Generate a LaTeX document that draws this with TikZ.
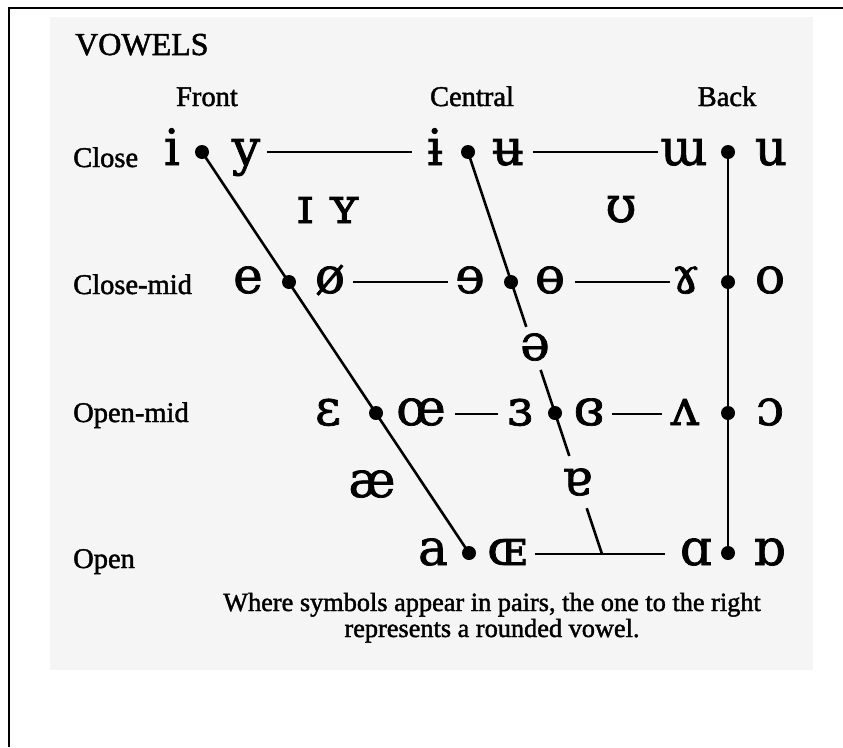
\documentclass[tikz,border=0pt]{standalone}
\usepackage{fontspec}
\setmainfont[FakeBold=1.6]{Liberation Serif}
\newfontfamily\ipafont[FakeBold=1.4]{DejaVu Serif}
\usetikzlibrary{calc}

\tikzset{
  lbl/.style={font=\fontsize{28.5}{28.5}\selectfont, anchor=base west, inner sep=0pt},
  head/.style={font=\fontsize{28.5}{28.5}\selectfont, anchor=base, inner sep=0pt},
  ipa/.style={font=\ipafont\fontsize{50}{50}\selectfont, anchor=base, inner sep=0pt},
  note/.style={font=\fontsize{26.3}{26.3}\selectfont, anchor=base, inner sep=0pt},
  vdot/.style={circle, fill=black, inner sep=0pt, minimum size=14pt},
  link/.style={line width=2.6pt, black},
  rule/.style={line width=2pt, black},
}

\begin{document}
\begin{tikzpicture}[x=1pt,y=1pt]
  \useasboundingbox (0,0) rectangle (843,-747);
  \fill[white] (0,0) rectangle (843,-747);
  % frame and paper
  \draw[line width=2pt] (9,-747) -- (9,-8) -- (843,-8);
  \fill[black!4] (50,-17) rectangle (813,-670);

  % titles
  \node[lbl, font=\fontsize{32}{32}\selectfont] (title) at (75,-55) {VOWELS};
  \node[head] (front) at (207,-106) {Front};
  \node[head] (central) at (472,-106) {Central};
  \node[head] (back) at (727,-106) {Back};
  \node[lbl] (close) at (73,-167) {Close};
  \node[lbl] (closemid) at (73,-294) {Close-mid};
  \node[lbl] (openmid) at (73,-422) {Open-mid};
  \node[lbl] (open) at (73,-568) {Open};

  % dots on the chart lines
  \node[vdot] (d11) at (202,-152) {};
  \node[vdot] (d12) at (468,-152) {};
  \node[vdot] (d13) at (728,-152) {};
  \node[vdot] (d21) at (289,-282) {};
  \node[vdot] (d22) at (511,-282) {};
  \node[vdot] (d23) at (728,-282) {};
  \node[vdot] (d31) at (376,-413) {};
  \node[vdot] (d32) at (555,-413) {};
  \node[vdot] (d33) at (728,-413) {};
  \node[vdot] (d41) at (469,-553) {};
  \node[vdot] (d43) at (728,-553) {};
  \coordinate (c4) at (602,-554);

  % close row
  \node[ipa] (vi) at (172,-165) {i};
  \node[ipa] (vy) at (246,-165) {y};
  \node[ipa] (vibar) at (435,-165) {ɨ};
  \node[ipa] (vubar) at (508,-165) {ʉ};
  \node[ipa] (vturnm) at (684,-165) {ɯ};
  \node[ipa] (vu) at (771,-165) {u};
  \node[ipa] (vsmi) at (305,-223) {ɪ};
  \node[ipa] (vsmy) at (344,-223) {ʏ};
  \node[ipa] (vups) at (621,-222) {ʊ};
  % close-mid row
  \node[ipa] (ve) at (248,-293) {e};
  \node[ipa] (voslash) at (330,-293) {ø};
  \node[ipa] (vreve) at (470,-293) {ɘ};
  \node[ipa] (vbaro) at (550,-293) {ɵ};
  \node[ipa] (vram) at (686,-293) {ɤ};
  \node[ipa] (vo) at (770,-293) {o};
  \node[ipa] (vschwa) at (535,-360) {ə};
  % open-mid row
  \node[ipa] (veps) at (328,-425) {ɛ};
  \node[ipa] (voe) at (421,-425) {œ};
  \node[ipa] (vreveps) at (520,-425) {ɜ};
  \node[ipa] (vcleps) at (589,-425) {ɞ};
  \node[ipa] (vturnv) at (685,-425) {ʌ};
  \node[ipa] (vopeno) at (770,-425) {ɔ};
  \node[ipa] (vae) at (372,-497) {æ};
  \node[ipa] (vturna) at (577,-495) {ɐ};
  % open row
  \node[ipa] (va) at (433,-565) {a};
  \node[ipa] (vOE) at (507,-565) {ɶ};
  \node[ipa] (vscra) at (696,-565) {ɑ};
  \node[ipa] (vturnscra) at (769,-565) {ɒ};

  % horizontal rules between the symbol pairs
  \coordinate (h1a) at (267,-152); \coordinate (h1b) at (412,-152);
  \coordinate (h1c) at (533,-152); \coordinate (h1d) at (658,-152);
  \coordinate (h2a) at (353,-282); \coordinate (h2b) at (448,-282);
  \coordinate (h2c) at (575,-282); \coordinate (h2d) at (670,-282);
  \coordinate (h3a) at (455,-414); \coordinate (h3b) at (498,-414);
  \coordinate (h3c) at (612,-414); \coordinate (h3d) at (662,-414);
  \coordinate (h4a) at (535,-554); \coordinate (h4b) at (665,-554);
  \draw[rule] (h1a) -- (h1b);
  \draw[rule] (h1c) -- (h1d);
  \draw[rule] (h2a) -- (h2b);
  \draw[rule] (h2c) -- (h2d);
  \draw[rule] (h3a) -- (h3b);
  \draw[rule] (h3c) -- (h3d);
  \draw[rule] (h4a) -- (h4b);

  % front, central and back edges
  \draw[link] (d11.center) -- (d41.center);
  \draw[link] (d13.center) -- (d43.center);
  \draw[link] (d12.center) -- ($(d12)!0.435!(c4)$);
  \draw[link] ($(d12)!0.542!(c4)$) -- ($(d12)!0.756!(c4)$);
  \draw[link] ($(d12)!0.886!(c4)$) -- (c4);

  % footnote
  \node[note] (note1) at (492,-611) {Where symbols appear in pairs, the one to the right};
  \node[note] (note2) at (492,-637) {represents a rounded vowel.};
\end{tikzpicture}
\end{document}
